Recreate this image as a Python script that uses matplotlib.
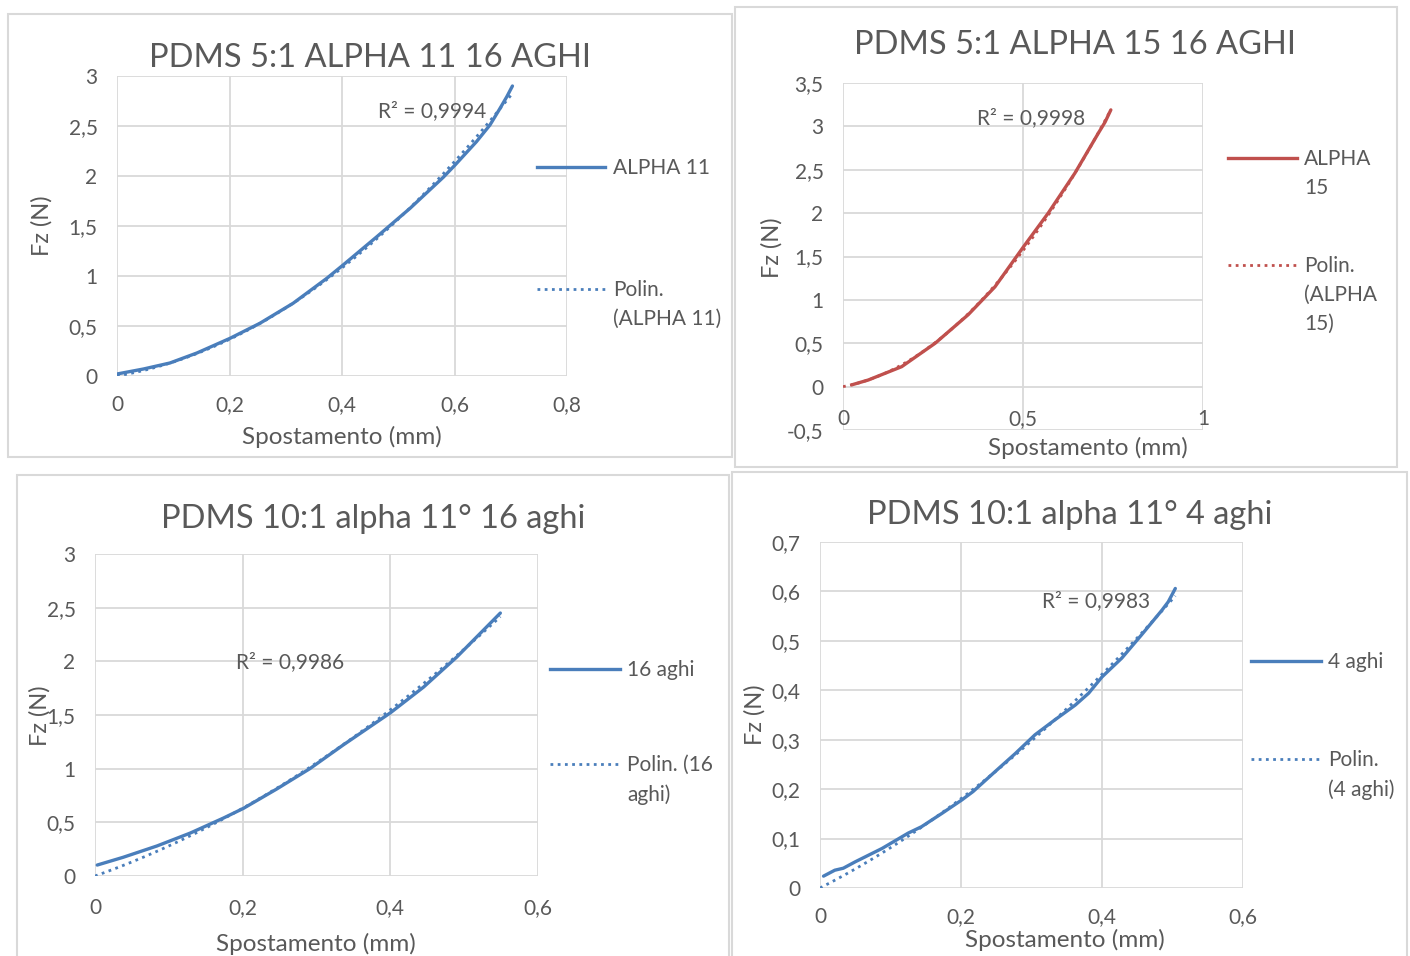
import numpy as np
import matplotlib.pyplot as plt
from matplotlib.lines import Line2D
from matplotlib.patches import Rectangle
from matplotlib.ticker import FuncFormatter, MultipleLocator

plt.rcParams['font.family'] = ['Lato', 'DejaVu Sans']

# --- data ---
x_a11 = [0.0, 0.047, 0.094, 0.142, 0.201, 0.254, 0.313, 0.373, 0.402, 0.462, 0.521, 0.580,
         0.601, 0.639, 0.663, 0.681, 0.693, 0.703]
y_a11 = [0.02, 0.07, 0.13, 0.23, 0.377, 0.527, 0.727, 0.977, 1.11, 1.393, 1.677, 1.987,
         2.11, 2.343, 2.51, 2.677, 2.793, 2.90]

x_a15 = [0.024, 0.070, 0.163, 0.256, 0.348, 0.422, 0.501, 0.570, 0.644, 0.709, 0.728, 0.744]
y_a15 = [0.02, 0.076, 0.23, 0.50, 0.83, 1.15, 1.61, 2.0, 2.46, 2.92, 3.05, 3.19]

x_16 = [0.003, 0.038, 0.084, 0.129, 0.174, 0.201, 0.246, 0.291, 0.336, 0.40, 0.445, 0.49,
        0.526, 0.549]
y_16 = [0.102, 0.174, 0.28, 0.40, 0.54, 0.63, 0.81, 1.0, 1.22, 1.52, 1.76, 2.04, 2.29, 2.45]

x_4 = [0.005, 0.021, 0.033, 0.050, 0.088, 0.125, 0.144, 0.173, 0.201, 0.217, 0.248, 0.277,
       0.305, 0.333, 0.362, 0.381, 0.400, 0.428, 0.456, 0.485, 0.494, 0.504]
y_4 = [0.024, 0.036, 0.040, 0.053, 0.080, 0.111, 0.124, 0.151, 0.178, 0.195, 0.235, 0.272,
       0.310, 0.340, 0.370, 0.394, 0.427, 0.465, 0.512, 0.562, 0.579, 0.606]

BLUE = '#4A7EBB'
RED = '#C0504D'
GRID = '#D9D9D9'
TXT = '#595959'

W, H = 1410, 956
fig = plt.figure(figsize=(W / 100, H / 100), dpi=100)


def fx(px):
    return px / W


def fy(py):
    return 1 - py / H


def comma(v, pos):
    return f'{v:g}'.replace('.', ',')


def poly_trend(x, y):
    # second-order polynomial trendline with intercept set to 0 (Excel option)
    x = np.asarray(x)
    A = np.column_stack([x ** 2, x])
    a, b = np.linalg.lstsq(A, np.asarray(y), rcond=None)[0]
    xt = np.linspace(0, x.max(), 200)
    return xt, a * xt ** 2 + b * xt


def panel(box, area, x, y, color, title, title_xy, xlab_xy, ylab_xy,
          xlim, xstep, ylim, ystep, r2, r2_xy, legend, xpad=14, zero_axis=False):
    fig.add_artist(Rectangle((fx(box[0]), fy(box[3])), (box[2] - box[0]) / W,
                             (box[3] - box[1]) / H, transform=fig.transFigure,
                             fill=False, edgecolor=GRID, lw=1.5))
    l, r, t, b = area
    ax = fig.add_axes([fx(l), fy(b), (r - l) / W, (b - t) / H])
    ax.plot(x, y, color=color, lw=2.4, solid_capstyle='round', solid_joinstyle='round')
    xt, yt = poly_trend(x, y)
    ax.plot(xt, yt, color=color, lw=2, ls=(0, (1, 1.6)))
    ax.set_xlim(*xlim)
    ax.set_ylim(*ylim)
    ax.xaxis.set_major_locator(MultipleLocator(xstep))
    ax.yaxis.set_major_locator(MultipleLocator(ystep))
    ax.xaxis.set_major_formatter(FuncFormatter(comma))
    ax.yaxis.set_major_formatter(FuncFormatter(comma))
    ax.grid(True, color=GRID, lw=1.3)
    ax.set_axisbelow(True)
    for s in ax.spines.values():
        s.set_visible(False)
    if zero_axis:
        ax.spines['bottom'].set_position(('data', 0))
    ax.tick_params(length=0, labelsize=15, labelcolor=TXT)
    ax.tick_params(axis='y', pad=14)
    ax.tick_params(axis='x', pad=xpad)
    ax.text(r2_xy[0], r2_xy[1], r2, fontsize=15, color=TXT, ha='center', va='center')
    fig.text(fx(title_xy[0]), fy(title_xy[1]), title, fontsize=23.5, color=TXT,
             ha='center', va='center')
    fig.text(fx(xlab_xy[0]), fy(xlab_xy[1]), 'Spostamento (mm)', fontsize=17.5,
             color=TXT, ha='center', va='center')
    fig.text(fx(ylab_xy[0]), fy(ylab_xy[1]), 'Fz (N)', fontsize=17, color=TXT,
             ha='center', va='center', rotation=90)
    # legend drawn like Excel: handle level with the first text line
    for (x0, x1, yy, tx, label, ls) in legend:
        fig.add_artist(Line2D([fx(x0), fx(x1)], [fy(yy), fy(yy)], color=color,
                              lw=2.4 if ls == '-' else 2,
                              ls='-' if ls == '-' else (0, (1, 1.6)),
                              transform=fig.transFigure))
        fig.text(fx(tx), fy(yy - 9), label, fontsize=15, color=TXT, ha='left',
                 va='top', linespacing=1.55)
    return ax


panel((8, 14, 732, 457), (117, 567, 76, 376), x_a11, y_a11, BLUE,
      'PDMS 5:1 ALPHA 11 16 AGHI', (370, 58), (342, 437), (42, 226),
      (0, 0.8), 0.2, (0, 3), 0.5, 'R² = 0,9994', (0.56, 2.65),
      [(537, 605, 167, 613, 'ALPHA 11', '-'),
       (537, 605, 289, 613, 'Polin.\n(ALPHA 11)', ':')])

panel((735, 7, 1397, 467), (843, 1203, 83, 430), x_a15, y_a15, RED,
      'PDMS 5:1 ALPHA 15 16 AGHI', (1075, 45), (1088, 448), (772, 248),
      (0, 1), 0.5, (-0.5, 3.5), 0.5, 'R² = 0,9998', (0.522, 3.1),
      [(1228, 1297, 158, 1304, 'ALPHA\n15', '-'),
       (1228, 1297, 265, 1304, 'Polin.\n(ALPHA\n15)', ':')],
      xpad=16, zero_axis=True)

panel((17, 475, 729, 960), (95, 538, 554, 876), x_16, y_16, BLUE,
      'PDMS 10:1 alpha 11° 16 aghi', (373, 519), (316, 944), (40, 716),
      (0, 0.6), 0.2, (0, 3), 0.5, 'R² = 0,9986', (0.264, 1.99),
      [(550, 620, 669, 627, '16 aghi', '-'),
       (550, 620, 764, 627, 'Polin. (16\naghi)', ':')], xpad=16)

panel((732, 472, 1407, 960), (820, 1243, 542, 888), x_4, y_4, BLUE,
      'PDMS 10:1 alpha 11° 4 aghi', (1070, 515), (1065, 940), (755, 715),
      (0, 0.6), 0.2, (0, 0.7), 0.1, 'R² = 0,9983', (0.391, 0.581),
      [(1251, 1321, 661, 1328, '4 aghi', '-'),
       (1251, 1321, 759, 1328, 'Polin.\n(4 aghi)', ':')], xpad=14)

fig.savefig('out.png', dpi=100, facecolor='white')
